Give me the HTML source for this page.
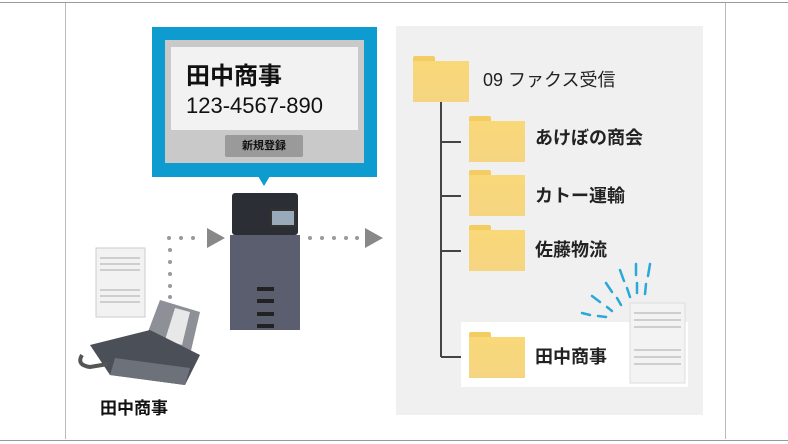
<!DOCTYPE html>
<html><head><meta charset="utf-8"><style>
body{margin:0;width:788px;height:444px;background:#fff;position:relative;overflow:hidden;font-family:"Liberation Sans","Noto Sans CJK JP",sans-serif}
.a{position:absolute}
.fold{position:absolute;width:56px;height:46px}
.fold:before{content:"";position:absolute;left:0;top:0;width:22px;height:8px;background:#f3cc62;border-radius:2px 2px 0 0}
.fold:after{content:"";position:absolute;left:0;top:5px;width:56px;height:41px;background:linear-gradient(#f8d878,#f6d582)}
.lbl{position:absolute;font-size:18px;color:#222;line-height:20px}
.tick{position:absolute;height:2px;width:20px;background:#444;left:441px}
</style></head><body>
<div class="a" style="left:0;top:2px;width:788px;height:1px;background:#999"></div>
<div class="a" style="left:0;top:440px;width:788px;height:1px;background:#999"></div>
<div class="a" style="left:65px;top:3px;width:659px;height:436px;border-left:1px solid #bbb;border-right:1px solid #bbb"></div>

<!-- callout -->
<div class="a" style="left:152px;top:27px;width:225px;height:150px;background:#0d9bd0"></div>
<div class="a" style="left:258px;top:176px;width:0;height:0;border-left:6px solid transparent;border-right:6px solid transparent;border-top:10px solid #0d9bd0"></div>
<div class="a" style="left:165px;top:40px;width:199px;height:123px;background:#c9c9c9"></div>
<div class="a" style="left:171px;top:47px;width:187px;height:83px;background:#f2f2f2"></div>
<div class="a" style="left:186px;top:56px;font-size:24px;font-weight:bold;color:#111">田中商事</div>
<div class="a" style="left:186px;top:93px;font-size:22px;color:#111">123-4567-890</div>
<div class="a" style="left:225px;top:135px;width:78px;height:22px;background:#9a9a9a;border-radius:2px;font-size:11px;color:#111;text-align:center;line-height:22px;font-weight:bold">新規登録</div>

<!-- printer -->
<div class="a" style="left:232px;top:193px;width:66px;height:42px;background:#2c2e35;border-radius:3px"></div>
<div class="a" style="left:270px;top:209px;width:22px;height:14px;background:#9ab;border:2px solid #333"></div>
<div class="a" style="left:230px;top:235px;width:70px;height:95px;background:#5b5e6e"></div>
<div class="a" style="left:257px;top:287px;width:17px;height:4px;background:#222"></div>
<div class="a" style="left:257px;top:299px;width:17px;height:4px;background:#222"></div>
<div class="a" style="left:257px;top:312px;width:17px;height:4px;background:#222"></div>
<div class="a" style="left:257px;top:324px;width:17px;height:4px;background:#222"></div>

<svg class="a" style="left:0;top:0" width="788" height="444">
<g fill="#999">
<circle cx="169" cy="238" r="2"/><circle cx="181" cy="238" r="2"/><circle cx="193" cy="238" r="2"/>
<circle cx="170" cy="250" r="2"/><circle cx="170" cy="262" r="2"/><circle cx="170" cy="274" r="2"/><circle cx="170" cy="286" r="2"/><circle cx="170" cy="297" r="2"/>
<circle cx="310" cy="238" r="2"/><circle cx="322" cy="238" r="2"/><circle cx="334" cy="238" r="2"/><circle cx="346" cy="238" r="2"/><circle cx="357" cy="238" r="2"/>
</g>
<polygon points="207,228 225,238 207,248" fill="#888"/>
<polygon points="365,228 383,238 365,248" fill="#888"/>
<rect x="96" y="248" width="49" height="69" fill="#f2f2f2" stroke="#ccc"/>
<g stroke="#aaa" stroke-width="1"><line x1="100" y1="258" x2="140" y2="258"/><line x1="100" y1="264" x2="140" y2="264"/><line x1="100" y1="270" x2="140" y2="270"/><line x1="100" y1="290" x2="140" y2="290"/><line x1="100" y1="296" x2="140" y2="296"/><line x1="100" y1="302" x2="140" y2="302"/></g>
<polygon points="143,345 160,300 200,312 190,355" fill="#8d9097"/>
<polygon points="165,340 175,308 190,312 182,345" fill="#e8e8e8"/>
<polygon points="90,345 150,330 200,355 185,385 110,375" fill="#4a4f58"/>
<polygon points="110,375 185,385 190,368 115,358" fill="#6c717a"/>
<path d="M82 355 q-6 10 8 12 l18 -3" stroke="#555" stroke-width="4" fill="none"/>
<rect x="396" y="26" width="307" height="389" fill="#f0f0f0"/>
<rect x="461" y="322" width="227" height="65" fill="#fff"/>
<line x1="441" y1="102" x2="441" y2="357" stroke="#444" stroke-width="2"/>
<rect x="630" y="303" width="55" height="80" fill="#f3f3f3" stroke="#ddd"/>
<g stroke="#aaa"><line x1="634" y1="313" x2="681" y2="313"/><line x1="634" y1="320" x2="681" y2="320"/><line x1="634" y1="327" x2="681" y2="327"/><line x1="634" y1="350" x2="681" y2="350"/><line x1="634" y1="357" x2="681" y2="357"/><line x1="634" y1="364" x2="681" y2="364"/></g>
<g stroke="#2aa8da" stroke-width="2.5" stroke-linecap="round">
<line x1="582" y1="313" x2="590" y2="315"/><line x1="598" y1="316" x2="606" y2="317"/>
<line x1="592" y1="296" x2="600" y2="302"/><line x1="607" y1="307" x2="612" y2="311"/>
<line x1="606" y1="283" x2="612" y2="292"/><line x1="617" y1="298" x2="621" y2="305"/>
<line x1="620" y1="270" x2="624" y2="281"/><line x1="627" y1="288" x2="630" y2="297"/>
<line x1="636" y1="264" x2="636" y2="275"/><line x1="637" y1="283" x2="637" y2="293"/>
<line x1="650" y1="264" x2="648" y2="276"/><line x1="646" y1="284" x2="645" y2="294"/>
</g>
</svg>
<div class="a" style="left:100px;top:394px;font-size:17px;font-weight:bold;color:#111">田中商事</div>

<div class="fold" style="left:413px;top:56px"></div>
<div class="lbl" style="left:483px;top:70px">09 ファクス受信</div>
<div class="tick" style="top:141px"></div><div class="tick" style="top:195px"></div><div class="tick" style="top:250px"></div><div class="tick" style="top:356px"></div>
<div class="fold" style="left:469px;top:116px"></div><div class="lbl" style="left:535px;top:128px;font-weight:bold">あけぼの商会</div>
<div class="fold" style="left:469px;top:170px"></div><div class="lbl" style="left:535px;top:186px;font-weight:bold">カトー運輸</div>
<div class="fold" style="left:469px;top:225px"></div><div class="lbl" style="left:535px;top:240px;font-weight:bold">佐藤物流</div>
<div class="fold" style="left:469px;top:332px"></div><div class="lbl" style="left:535px;top:347px;font-weight:bold">田中商事</div>
</body></html>
